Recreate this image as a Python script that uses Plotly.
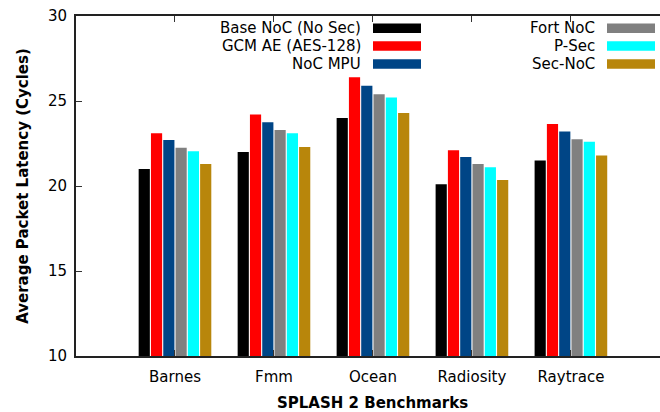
import plotly.graph_objects as go

benchmarks = ["Barnes", "Fmm", "Ocean", "Radiosity", "Raytrace"]

series_names = [
    "Base NoC (No Sec)",
    "GCM AE (AES-128)",
    "NoC MPU",
    "Fort NoC",
    "P-Sec",
    "Sec-NoC",
]

base_noc = [21.0, 22.0, 24.0, 20.1, 21.5]
gcm_ae = [23.1, 24.2, 26.4, 22.1, 23.65]
noc_mpu = [22.7, 23.75, 25.9, 21.7, 23.2]
fort_noc = [22.25, 23.3, 25.4, 21.3, 22.75]
p_sec = [22.05, 23.1, 25.2, 21.1, 22.6]
sec_noc = [21.3, 22.3, 24.3, 20.35, 21.8]

series_values = [base_noc, gcm_ae, noc_mpu, fort_noc, p_sec, sec_noc]
colors = ["#000000", "#ff0000", "#004586", "#808080", "#00ffff", "#b8860b"]

y_ticks = [10, 15, 20, 25, 30]

FONT = "DejaVu Sans"
W, H = 660, 412
ML, MR, MT, MB = 76, 0, 16, 56
PW = W - ML - MR
PH = H - MT - MB


def px(x):
    return (x - ML) / PW


def py(y):
    return 1 - (y - MT) / PH


fig = go.Figure()
xs = list(range(len(benchmarks)))
for name, vals, col in zip(series_names, series_values, colors):
    fig.add_trace(go.Bar(
        x=xs, y=vals, name=name,
        marker=dict(color=col, line=dict(width=0)),
        showlegend=False,
    ))

# two-column key: right-aligned text followed by a colour swatch
key_cols = [(363, 373, 421), (597, 607, 655)]
key_rows = [28.3, 46, 64]
for i, (name, col) in enumerate(zip(series_names, colors)):
    tx, sx0, sx1 = key_cols[i // 3]
    yc = key_rows[i % 3]
    fig.add_annotation(
        x=px(tx), y=py(yc), xref="paper", yref="paper",
        text=name, showarrow=False, xanchor="right", yanchor="middle",
        font=dict(family=FONT, size=15, color="#000000"),
    )
    fig.add_shape(
        type="rect", xref="paper", yref="paper",
        x0=px(sx0), x1=px(sx1), y0=py(yc + 4.7), y1=py(yc - 4.7),
        fillcolor=col, line=dict(width=0),
    )

# x-axis title centred on the full category span
fig.add_annotation(
    x=2, y=py(402.5), xref="x", yref="paper",
    text="<b>SPLASH 2 Benchmarks</b>", showarrow=False,
    xanchor="center", yanchor="middle",
    font=dict(family=FONT, size=15, color="#000000"),
)

fig.update_layout(
    width=W, height=H,
    margin=dict(l=ML, r=MR, t=MT, b=MB, pad=0),
    paper_bgcolor="white", plot_bgcolor="white",
    barmode="group", bargap=0.255, bargroupgap=0.09,
    font=dict(family=FONT, size=15, color="#000000"),
    xaxis=dict(
        range=[-1, 4.9], tickmode="array", tickvals=xs, ticktext=benchmarks,
        ticks="inside", ticklen=6, tickwidth=1, tickcolor="#333333",
        showline=True, linecolor="#222222", linewidth=2, mirror="ticks",
        showgrid=False, zeroline=False,
        tickfont=dict(family=FONT, size=15, color="#000000"),
        ticklabelstandoff=6,
    ),
    yaxis=dict(
        range=[10, 30], tickmode="array", tickvals=y_ticks,
        ticks="inside", ticklen=6, tickwidth=1, tickcolor="#333333",
        showline=True, linecolor="#222222", linewidth=2,
        showgrid=False, zeroline=False,
        tickfont=dict(family=FONT, size=15, color="#000000"),
        ticklabelstandoff=4,
        title=dict(
            text="<b>Average Packet Latency (Cycles)</b>",
            font=dict(family=FONT, size=15, color="#000000"),
            standoff=16,
        ),
    ),
)

fig.write_html("out.html")
